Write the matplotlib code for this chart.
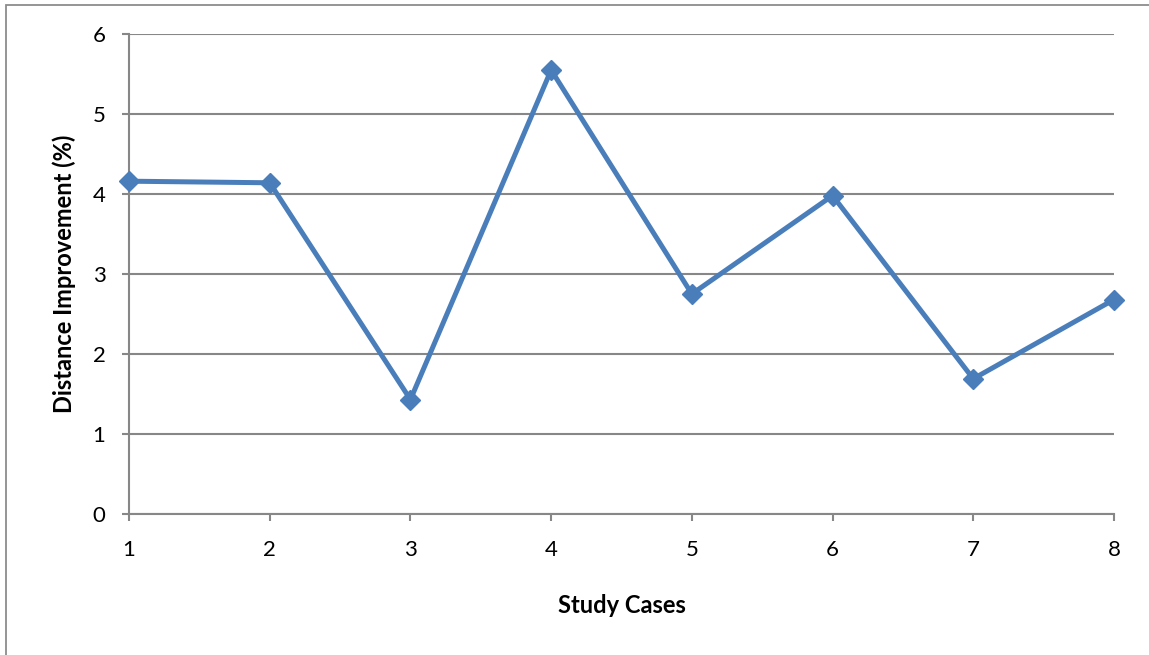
import matplotlib
matplotlib.use("Agg")
import matplotlib.pyplot as plt
from matplotlib.patches import Rectangle

# Distance improvement per study case
cases = [1, 2, 3, 4, 5, 6, 7, 8]
improvement = [4.16, 4.14, 1.43, 5.55, 2.75, 3.98, 1.69, 2.68]
y_ticks = [0, 1, 2, 3, 4, 5, 6]

plt.rcParams['font.family'] = ['Lato', 'DejaVu Sans']

LINE_BLUE = '#4a7ebb'
GRID_GRAY = '#878787'

fig = plt.figure(figsize=(11.49, 6.55), dpi=100)
ax = fig.add_axes([0.1123, 0.2153, 0.8572, 0.7328])

# outer chart frame (only top/left edges fall inside the image)
fig.patches.append(Rectangle((6 / 1149, -0.1), 1.2, 1.1 - 5 / 655,
                             transform=fig.transFigure, fill=False,
                             edgecolor='#8c8c8c', linewidth=1.3))

ax.plot(cases, improvement, color=LINE_BLUE, linewidth=3.6,
        marker='D', markersize=10, markerfacecolor=LINE_BLUE,
        markeredgecolor=LINE_BLUE, clip_on=False, zorder=3)

ax.set_xlim(1, 8)
ax.set_ylim(0, 6)
ax.set_xticks(cases)
ax.set_yticks(y_ticks)

ax.yaxis.grid(True, color=GRID_GRAY, linewidth=1.5)
ax.set_axisbelow(True)
for side in ['top', 'right']:
    ax.spines[side].set_visible(False)
for side in ['left', 'bottom']:
    ax.spines[side].set_color(GRID_GRAY)
    ax.spines[side].set_linewidth(1.5)

ax.tick_params(axis='both', colors=GRID_GRAY, length=5, width=1.5,
               labelcolor='black', labelsize=16)
ax.tick_params(axis='y', pad=12)
ax.tick_params(axis='x', pad=14)

ax.set_xlabel('Study Cases', fontsize=17, fontweight='bold', labelpad=24)
ax.set_ylabel('Distance Improvement (%)', fontsize=17, fontweight='bold',
              labelpad=12)

fig.savefig('out.png', dpi=100)
